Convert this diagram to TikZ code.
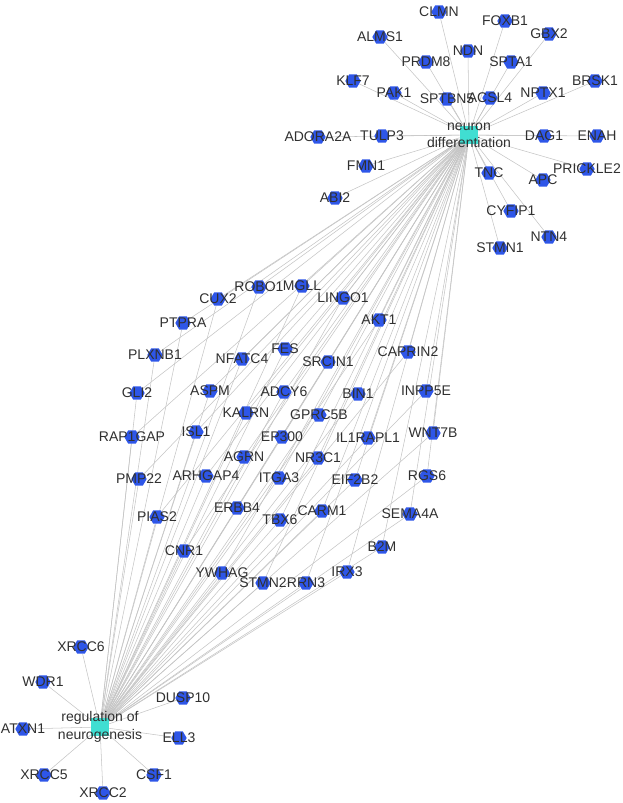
\documentclass[tikz,border=0pt]{standalone}
\usepackage{fontspec}
\setmainfont{Liberation Sans}
\usetikzlibrary{shapes.geometric,backgrounds}
\definecolor{hexblue}{RGB}{46,86,232}
\definecolor{termcyan}{RGB}{64,222,210}
\definecolor{edgegrey}{RGB}{196,196,196}
\definecolor{txtgrey}{RGB}{48,48,48}
\tikzset{
  genelabel/.style={text=txtgrey, font=\fontsize{10.5}{12}\selectfont, inner sep=0pt},
  gene/.style={regular polygon, regular polygon sides=6, fill=hexblue, draw=none,
    minimum size=11.5pt, inner sep=0pt, label={[genelabel]center:#1}},
  term/.style={rectangle, fill=termcyan, draw=none, minimum size=13.5pt, inner sep=0pt},
  termlabel/.style={text=txtgrey, font=\fontsize{10.5}{13}\selectfont, align=center, inner sep=0pt},
  edge/.style={draw=edgegrey, line width=0.4pt}
}
\begin{document}
\begin{tikzpicture}[x=0.75pt,y=-0.75pt]
\useasboundingbox (0,0) rectangle (622,803);
\node[term, label={[termlabel]center:neuron\\differentiation}] (nd) at (469,135) {};
\node[term, label={[termlabel]center:regulation of\\neurogenesis}] (rn) at (100,727) {};
% genes annotated only with neuron differentiation
\foreach \n/\x/\y in {CLMN/439/12, FOXB1/505/21, ALMS1/380/37, GBX2/549/34, NDN/468/51,
  PRDM8/426/62, SPTA1/511/62, KLF7/353/81, BRSK1/595/81, PAK1/394/93, SPTBN5/447/99,
  ACSL4/490/98, NPTX1/543/93, ADORA2A/318/137, TULP3/382/136, DAG1/544/136, ENAH/597/136,
  FMN1/366/166, TNC/489/173, APC/543/180, PRICKLE2/587/169, ABI2/335/198, CYFIP1/511/211,
  NTN4/549/237, STMN1/500/248}{
  \node[gene=\n] (\n) at (\x,\y) {};
  \begin{scope}[on background layer]
    \draw[edge] (\n) -- (nd);
  \end{scope}
}
% genes annotated only with regulation of neurogenesis
\foreach \n/\x/\y in {XRCC6/81/647, WDR1/43/682, DUSP10/183/698, ATXN1/23/729, ELL3/179/738,
  XRCC5/44/775, CSF1/154/775, XRCC2/103/793}{
  \node[gene=\n] (\n) at (\x,\y) {};
  \begin{scope}[on background layer]
    \draw[edge] (\n) -- (rn);
  \end{scope}
}
% genes annotated with both terms
\foreach \n/\x/\y in {ROBO1/259/287, MGLL/302/286, CUX2/218/299, LINGO1/343/298,
  PTPRA/183/323, AKT1/379/320, PLXNB1/155/355, FES/285/349, NFATC4/242/359, SRCIN1/328/362,
  CAPRIN2/408/352, GLI2/137/393, ASPM/210/391, ADCY6/284/392, BIN1/358/394, INPP5E/426/391,
  KALRN/246/413, GPRC5B/319/415, RAP1GAP/132/437, ISL1/196/432, EP300/282/437,
  IL1RAPL1/368/438, WNT7B/433/433, AGRN/244/457, NR3C1/318/458, PMP22/139/479,
  ARHGAP4/206/476, ITGA3/279/478, EIF2B2/355/480, RGS6/427/476, PIAS2/157/517,
  ERBB4/237/508, TBX6/280/520, CARM1/322/511, SEMA4A/410/514, CNR1/184/551, B2M/382/547,
  YWHAG/222/573, STMN2/263/583, RRN3/306/583, IRX3/347/572}{
  \node[gene=\n] (\n) at (\x,\y) {};
  \begin{scope}[on background layer]
    \draw[edge] (\n) -- (nd);
    \draw[edge] (\n) -- (rn);
  \end{scope}
}
\end{tikzpicture}
\end{document}
